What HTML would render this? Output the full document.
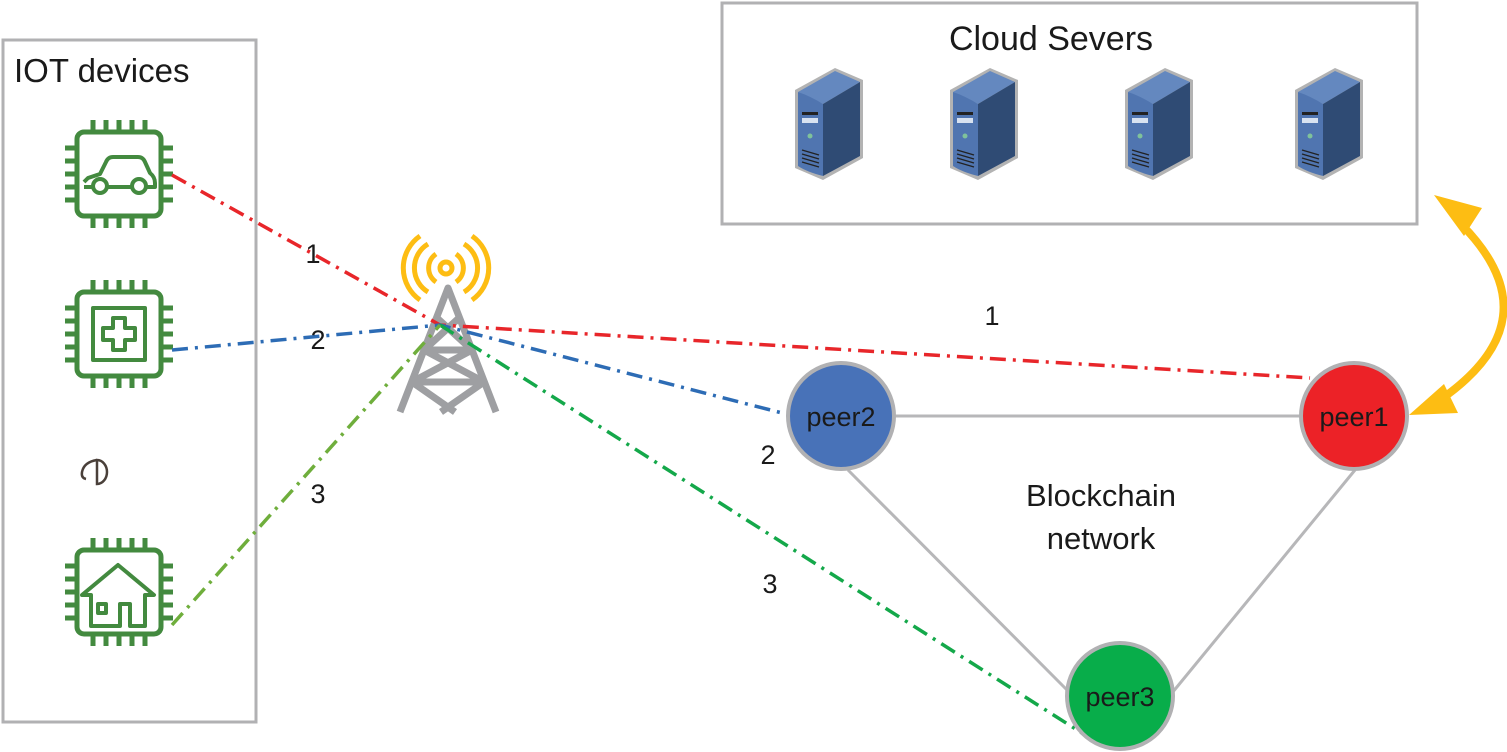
<!DOCTYPE html>
<html><head><meta charset="utf-8"><style>
html,body{margin:0;padding:0;background:#fff;}
svg{display:block;}
text{font-family:"Liberation Sans",sans-serif;}
</style></head><body>
<svg width="1507" height="752" viewBox="0 0 1507 752" xmlns="http://www.w3.org/2000/svg">
<defs>
<g id="chip">
  <rect x="0" y="0" width="84" height="84" rx="7" fill="none" stroke="#438a3f" stroke-width="5"/>
  <g stroke="#438a3f" stroke-width="5">
    <line x1="16" y1="0" x2="16" y2="-12"/><line x1="29" y1="0" x2="29" y2="-12"/><line x1="42" y1="0" x2="42" y2="-12"/><line x1="55" y1="0" x2="55" y2="-12"/><line x1="68" y1="0" x2="68" y2="-12"/>
    <line x1="16" y1="84" x2="16" y2="96"/><line x1="29" y1="84" x2="29" y2="96"/><line x1="42" y1="84" x2="42" y2="96"/><line x1="55" y1="84" x2="55" y2="96"/><line x1="68" y1="84" x2="68" y2="96"/>
    <line y1="16" x1="0" y2="16" x2="-12"/><line y1="29" x1="0" y2="29" x2="-12"/><line y1="42" x1="0" y2="42" x2="-12"/><line y1="55" x1="0" y2="55" x2="-12"/><line y1="68" x1="0" y2="68" x2="-12"/>
    <line y1="16" x1="84" y2="16" x2="96"/><line y1="29" x1="84" y2="29" x2="96"/><line y1="42" x1="84" y2="42" x2="96"/><line y1="55" x1="84" y2="55" x2="96"/><line y1="68" x1="84" y2="68" x2="96"/>
  </g>
</g>
<g id="server">
  <path d="M0 22 L40 0 L68 12 L68 90 L28 112 L0 100 Z" fill="#b3b3b3"/>
  <path d="M3 24 L40 3 L65 14 L28 36 Z" fill="#6488bf"/>
  <path d="M3 24 Q15 28 28 36 L28 108 Q12 104 3 98 Z" fill="#5075b0"/>
  <path d="M28 36 L65 14 L65 88 L28 108 Z" fill="#2f4b74"/>
  <rect x="7" y="44" width="16" height="3" fill="#222"/>
  <rect x="7" y="50" width="16" height="5" fill="#d8e2f0"/>
  <circle cx="15" cy="68" r="2.5" fill="#7fc29b"/>
  <g stroke="#222" stroke-width="1.3"><line x1="7" y1="82" x2="24" y2="87"/><line x1="7" y1="86" x2="24" y2="91"/><line x1="7" y1="90" x2="24" y2="95"/><line x1="7" y1="94" x2="24" y2="99"/></g>
</g>
</defs>

<rect x="3" y="40" width="253" height="682" fill="none" stroke="#b1b1b3" stroke-width="3"/>
<rect x="722" y="3" width="695" height="221" fill="none" stroke="#b1b1b3" stroke-width="3"/>
<text x="14" y="82" font-size="33" fill="#1a1a1a">IOT devices</text>
<text x="1051" y="50" font-size="34" fill="#1a1a1a" text-anchor="middle">Cloud Severs</text>

<use href="#server" x="795" y="68"/>
<use href="#server" x="950" y="68"/>
<use href="#server" x="1125" y="68"/>
<use href="#server" x="1295" y="68"/>

<use href="#chip" x="77" y="132"/>
<use href="#chip" x="77" y="292"/>
<use href="#chip" x="77" y="550"/>
<g fill="none" stroke="#438a3f" stroke-width="4" stroke-linejoin="round">
  <path d="M84 182 L88 178 L100 174 L106 162 Q108 157 113 157 L138 157 Q143 157 145 162 L150 173 Q155 177 155 183 L155 187 L84 187"/>
  <circle cx="100" cy="186" r="7" fill="#fff"/><circle cx="139" cy="186" r="7" fill="#fff"/>
</g>
<g fill="none" stroke="#438a3f" stroke-width="4" stroke-linejoin="round">
  <rect x="93" y="308" width="52" height="52"/>
  <path d="M113 318 h12 v10 h10 v12 h-10 v10 h-12 v-10 h-10 v-12 h10 z"/>
</g>
<g fill="none" stroke="#438a3f" stroke-width="4" stroke-linejoin="round">
  <path d="M82 595 L118 565 L154 595 L145 595 L145 626 L130 626 L130 604 L120 604 L120 626 L91 626 L91 595 Z"/>
  <rect x="98" y="604" width="8" height="9"/>
</g>
<g fill="none" stroke="#4a403a" stroke-width="2.5">
  <path d="M97 460 A10 12 0 1 1 97 484 Z"/>
  <path d="M97 460 Q84 462 82 472 Q81 478 86 479"/>
</g>

<g stroke="#b7b7b9" stroke-width="3">
  <line x1="893" y1="416" x2="1300" y2="416"/>
  <line x1="848" y1="470" x2="1070" y2="693"/>
  <line x1="1355" y1="470" x2="1172" y2="693"/>
</g>

<g fill="none" stroke="#9e9fa2" stroke-width="7" stroke-linejoin="round">
  <path d="M400 412 L448 288 L496 412"/>
  <path d="M424 350 L472 350 M412 382 L484 382"/>
  <path d="M437 318 L472 350 L412 382 L455 412 M459 318 L424 350 L484 382 L441 412"/>
</g>
<g fill="none" stroke="#fdbd13" stroke-width="5">
  <circle cx="446" cy="268" r="6"/>
  <path d="M436 254 A17 17 0 0 0 436 282 M456 254 A17 17 0 0 1 456 282"/>
  <path d="M428 244 A28 28 0 0 0 428 292 M464 244 A28 28 0 0 1 464 292"/>
  <path d="M420 236 A39 39 0 0 0 420 300 M472 236 A39 39 0 0 1 472 300"/>
</g>

<g fill="none" stroke-width="3.5" stroke-dasharray="16 7 3 7">
  <polyline points="172,175 440,325 1310,378" stroke="#e8262a"/>
  <polyline points="172,350 440,325 790,415" stroke="#2d6cb5"/>
  <polyline points="440,325 1085,735" stroke="#14a84a"/>
  <polyline points="172,625 440,325" stroke="#6fae3c"/>
</g>

<circle cx="841" cy="416" r="53" fill="#4872b8" stroke="#b1b1b3" stroke-width="4"/>
<circle cx="1354" cy="416" r="53" fill="#ec2227" stroke="#b1b1b3" stroke-width="4"/>
<circle cx="1120" cy="696" r="53" fill="#08ad4a" stroke="#b1b1b3" stroke-width="4"/>
<text x="841" y="426" font-size="27" fill="#1a1a1a" text-anchor="middle">peer2</text>
<text x="1354" y="426" font-size="27" fill="#1a1a1a" text-anchor="middle">peer1</text>
<text x="1120" y="706" font-size="27" fill="#1a1a1a" text-anchor="middle">peer3</text>

<g font-size="27" fill="#1a1a1a" text-anchor="middle">
  <text x="313" y="263">1</text>
  <text x="318" y="349">2</text>
  <text x="318" y="503">3</text>
  <text x="992" y="325">1</text>
  <text x="768" y="464">2</text>
  <text x="770" y="593">3</text>
  <text x="1101" y="506" font-size="31">Blockchain</text>
  <text x="1101" y="549" font-size="31">network</text>
</g>

<path d="M1462 225 Q1555 320 1440 400" fill="none" stroke="#fdbd13" stroke-width="8"/>
<polygon points="1434,195 1482,208 1464,236" fill="#fdbd13"/>
<polygon points="1409,415 1444,384 1458,413" fill="#fdbd13"/>
</svg>
</body></html>
